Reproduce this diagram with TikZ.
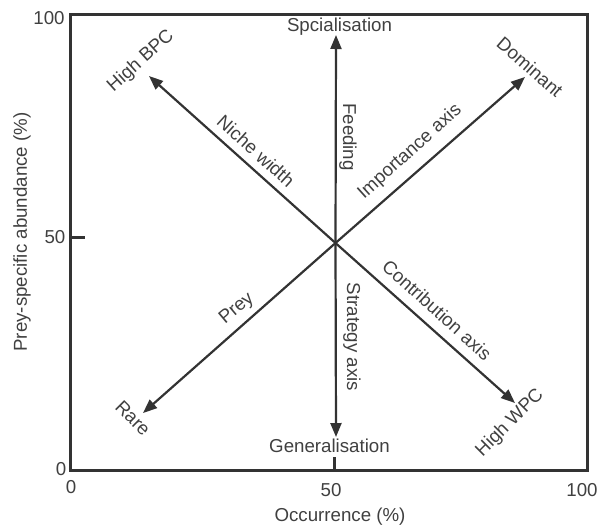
\documentclass[tikz,border=0pt]{standalone}
\usepackage{fontspec}
\setmainfont{Liberation Sans}
\usetikzlibrary{arrows.meta}
\definecolor{linec}{HTML}{333333}
\definecolor{textc}{HTML}{404040}
\begin{document}
\begin{tikzpicture}[x=1pt,y=-1pt,
  lbl/.style={inner sep=0pt,text=textc,font=\fontsize{18.7}{22}\selectfont},
  frameline/.style={draw=linec,line width=3pt},
  arr/.style={draw=linec,line width=2.2pt,-{Triangle[length=14pt,width=11pt]}}]
\useasboundingbox (0,0) rectangle (604,531);
% frame
\draw[frameline,line join=miter] (70,14.5) rectangle (587,470);
\draw[frameline] (71,237) -- (85,237);
\draw[frameline] (334,457) -- (334,470);
% tick labels
\node[lbl] (y100) at (49,18) {100};
\node[lbl] (y50) at (55,237) {50};
\node[lbl] (y0) at (61,469) {0};
\node[lbl] (x0) at (71,487) {0};
\node[lbl] (x50) at (331,490) {50};
\node[lbl] (x100) at (582,490) {100};
\node[lbl] (xlab) at (340,517) {Occurrence (\%)};
\node[lbl,rotate=90] (ylab) at (22,232) {Prey-specific abundance (\%)};
% arrows
\coordinate (c) at (335.5,243);
\coordinate (tu) at (336,35);
\coordinate (td) at (336,437);
\coordinate (tul) at (149,76);
\coordinate (tur) at (525,77);
\coordinate (tdl) at (143,413);
\coordinate (tdr) at (515,403);
\draw[arr] (c) -- (tu);
\draw[arr] (c) -- (td);
\draw[arr] (c) -- (tul);
\draw[arr] (c) -- (tur);
\draw[arr] (c) -- (tdl);
\draw[arr] (c) -- (tdr);
% end labels
\node[lbl] (spc) at (339.5,27) {Spcialisation};
\node[lbl] (gen) at (329.5,446) {Generalisation};
\node[lbl,rotate=42] (bpc) at (141,61) {High BPC};
\node[lbl,rotate=-41] (dom) at (530,67) {Dominant};
\node[lbl,rotate=-45] (rare) at (133,418) {Rare};
\node[lbl,rotate=45] (wpc) at (510,423) {High WPC};
% axis labels
\node[lbl,rotate=-42] (niche) at (256,151) {Niche width};
\node[lbl,rotate=-90] (feed) at (348,137) {Feeding};
\node[lbl,rotate=42] (imp) at (410,152) {Importance axis};
\node[lbl,rotate=-42] (contr) at (437,310) {Contribution axis};
\node[lbl,rotate=40] (prey) at (237,309) {Prey};
\node[lbl,rotate=-90] (strat) at (352,337) {Strategy axis};
\end{tikzpicture}
\end{document}
